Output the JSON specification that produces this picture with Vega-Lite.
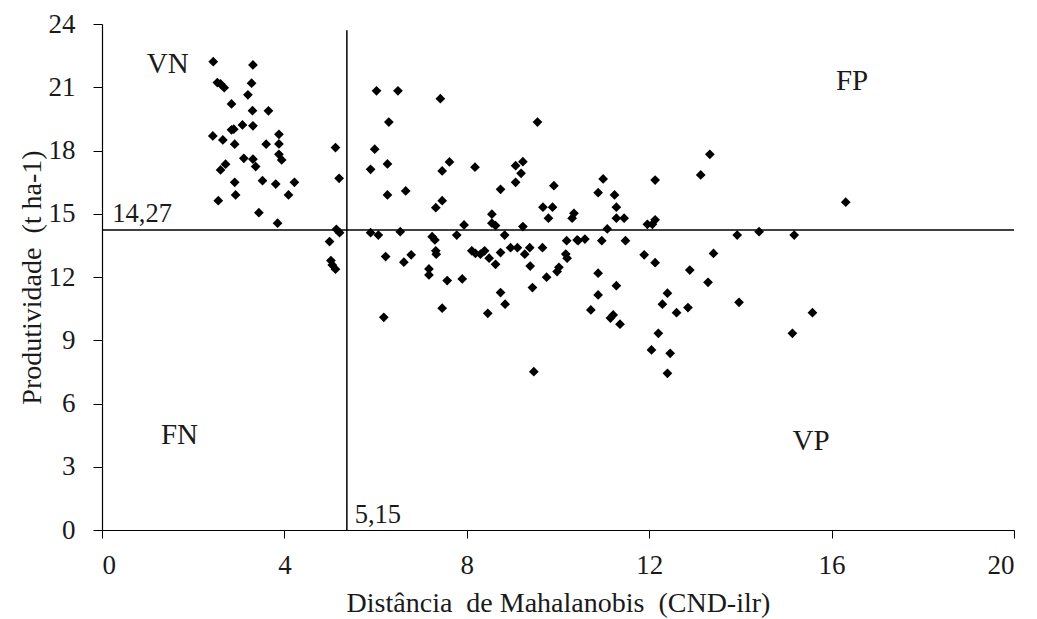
{
  "$schema": "https://vega.github.io/schema/vega-lite/v6.json",
  "width": 912,
  "height": 506,
  "autosize": "none",
  "padding": {"left": 102, "top": 24, "right": 23, "bottom": 89},
  "background": "white",
  "config": {
    "view": {"stroke": null},
    "font": "'Liberation Serif', 'Times New Roman', serif",
    "text": {"font": "'Liberation Serif', 'Times New Roman', serif"},
    "axis": {
      "grid": false,
      "domainColor": "#000000",
      "domainWidth": 1.2,
      "tickColor": "#000000",
      "tickSize": 8,
      "labelFont": "'Liberation Serif', 'Times New Roman', serif",
      "labelFontSize": 27,
      "labelColor": "#1a1a1a",
      "titleFont": "'Liberation Serif', 'Times New Roman', serif",
      "titleFontSize": 28,
      "titleFontWeight": "normal",
      "titleColor": "#1a1a1a"
    }
  },
  "layer": [
    {
      "data": {"values": [
        {"d": 2.44, "p": 22.21}, {"d": 3.31, "p": 22.06}, {"d": 2.53, "p": 21.22}, {"d": 2.60, "p": 21.16},
        {"d": 2.68, "p": 20.98}, {"d": 3.28, "p": 21.19}, {"d": 3.20, "p": 20.64}, {"d": 2.84, "p": 20.21},
        {"d": 3.30, "p": 19.89}, {"d": 3.65, "p": 19.88}, {"d": 3.31, "p": 19.17}, {"d": 3.08, "p": 19.21},
        {"d": 2.89, "p": 19.01}, {"d": 2.84, "p": 18.98}, {"d": 3.88, "p": 18.77}, {"d": 2.43, "p": 18.69},
        {"d": 2.65, "p": 18.50}, {"d": 2.91, "p": 18.30}, {"d": 3.60, "p": 18.30}, {"d": 3.88, "p": 18.31},
        {"d": 5.12, "p": 18.14}, {"d": 3.88, "p": 17.82}, {"d": 3.94, "p": 17.55}, {"d": 3.11, "p": 17.63},
        {"d": 3.31, "p": 17.59}, {"d": 3.37, "p": 17.24}, {"d": 2.71, "p": 17.35}, {"d": 2.60, "p": 17.08},
        {"d": 5.20, "p": 16.68}, {"d": 2.91, "p": 16.49}, {"d": 3.52, "p": 16.57}, {"d": 3.81, "p": 16.41},
        {"d": 4.22, "p": 16.49}, {"d": 2.93, "p": 15.89}, {"d": 4.09, "p": 15.89}, {"d": 2.55, "p": 15.62},
        {"d": 3.44, "p": 15.05}, {"d": 3.85, "p": 14.55}, {"d": 5.14, "p": 14.26}, {"d": 5.21, "p": 14.10},
        {"d": 4.99, "p": 13.68},
        {"d": 6.02, "p": 20.83}, {"d": 6.49, "p": 20.83}, {"d": 7.42, "p": 20.46}, {"d": 6.29, "p": 19.35},
        {"d": 9.55, "p": 19.35}, {"d": 5.98, "p": 18.06}, {"d": 5.89, "p": 17.11}, {"d": 6.26, "p": 17.36},
        {"d": 7.62, "p": 17.46}, {"d": 7.46, "p": 17.03}, {"d": 8.18, "p": 17.21}, {"d": 9.07, "p": 17.28},
        {"d": 9.23, "p": 17.47}, {"d": 9.19, "p": 16.92}, {"d": 9.07, "p": 16.49}, {"d": 9.91, "p": 16.33},
        {"d": 8.74, "p": 16.16}, {"d": 6.26, "p": 15.89}, {"d": 6.66, "p": 16.08}, {"d": 7.46, "p": 15.62},
        {"d": 7.32, "p": 15.29}, {"d": 9.67, "p": 15.31}, {"d": 9.88, "p": 15.31}, {"d": 9.79, "p": 14.79},
        {"d": 10.35, "p": 15.02}, {"d": 10.31, "p": 14.79}, {"d": 8.55, "p": 14.98}, {"d": 8.55, "p": 14.55},
        {"d": 8.63, "p": 14.44}, {"d": 7.94, "p": 14.47}, {"d": 9.23, "p": 14.39}, {"d": 5.89, "p": 14.10},
        {"d": 6.06, "p": 13.99}, {"d": 6.54, "p": 14.15}, {"d": 7.24, "p": 13.91}, {"d": 7.30, "p": 13.76},
        {"d": 7.78, "p": 13.99}, {"d": 8.83, "p": 13.99}, {"d": 7.32, "p": 13.24}, {"d": 7.33, "p": 13.08},
        {"d": 8.11, "p": 13.24}, {"d": 8.19, "p": 13.12}, {"d": 8.30, "p": 13.08}, {"d": 8.39, "p": 13.24},
        {"d": 8.49, "p": 12.89}, {"d": 8.63, "p": 12.60}, {"d": 8.74, "p": 13.16}, {"d": 8.96, "p": 13.39},
        {"d": 9.11, "p": 13.39}, {"d": 9.38, "p": 13.39}, {"d": 9.66, "p": 13.39}, {"d": 9.27, "p": 13.08},
        {"d": 9.39, "p": 12.52}, {"d": 10.19, "p": 13.72}, {"d": 10.42, "p": 13.76}, {"d": 10.17, "p": 13.09},
        {"d": 10.20, "p": 12.89}, {"d": 10.02, "p": 12.46}, {"d": 9.98, "p": 12.26}, {"d": 9.75, "p": 11.99},
        {"d": 6.22, "p": 12.97}, {"d": 6.78, "p": 13.05}, {"d": 6.62, "p": 12.70}, {"d": 7.17, "p": 12.38},
        {"d": 7.17, "p": 12.10}, {"d": 7.57, "p": 11.83}, {"d": 7.90, "p": 11.91}, {"d": 5.02, "p": 12.78},
        {"d": 5.05, "p": 12.57}, {"d": 5.12, "p": 12.37}, {"d": 8.74, "p": 11.26}, {"d": 9.44, "p": 11.50},
        {"d": 6.18, "p": 10.09}, {"d": 7.46, "p": 10.52}, {"d": 8.46, "p": 10.28}, {"d": 8.84, "p": 10.71},
        {"d": 9.47, "p": 7.51},
        {"d": 13.33, "p": 17.82}, {"d": 13.13, "p": 16.84}, {"d": 10.99, "p": 16.65}, {"d": 12.13, "p": 16.60},
        {"d": 10.88, "p": 16.00}, {"d": 11.24, "p": 15.89}, {"d": 11.28, "p": 15.31}, {"d": 11.28, "p": 14.79},
        {"d": 11.45, "p": 14.79}, {"d": 11.96, "p": 14.50}, {"d": 12.13, "p": 14.71}, {"d": 12.07, "p": 14.50},
        {"d": 11.08, "p": 14.28}, {"d": 13.93, "p": 13.99}, {"d": 14.41, "p": 14.15}, {"d": 15.18, "p": 13.99},
        {"d": 10.44, "p": 13.72}, {"d": 10.59, "p": 13.80}, {"d": 10.96, "p": 13.72}, {"d": 11.48, "p": 13.72},
        {"d": 11.89, "p": 13.05}, {"d": 12.13, "p": 12.68}, {"d": 13.41, "p": 13.12}, {"d": 12.89, "p": 12.33},
        {"d": 13.29, "p": 11.75}, {"d": 10.88, "p": 12.18}, {"d": 11.28, "p": 11.59}, {"d": 10.88, "p": 11.15},
        {"d": 10.72, "p": 10.44}, {"d": 11.21, "p": 10.20}, {"d": 13.97, "p": 10.80}, {"d": 12.40, "p": 11.23},
        {"d": 12.29, "p": 10.71}, {"d": 12.60, "p": 10.31}, {"d": 12.85, "p": 10.55}, {"d": 15.58, "p": 10.31},
        {"d": 11.36, "p": 9.76}, {"d": 11.15, "p": 10.05}, {"d": 12.20, "p": 9.33}, {"d": 12.05, "p": 8.54},
        {"d": 12.46, "p": 8.38}, {"d": 12.40, "p": 7.43}, {"d": 15.14, "p": 9.33}, {"d": 16.31, "p": 15.55}
      ]},
      "mark": {"type": "point", "shape": "diamond", "filled": true, "size": 95, "color": "#000000", "opacity": 1},
      "encoding": {
        "x": {"field": "d", "type": "quantitative",
              "scale": {"domain": [0, 20], "nice": false, "zero": true},
              "axis": {"values": [0, 4, 8, 12, 16, 20], "title": "Distância\u00a0 de Mahalanobis\u00a0 (CND-ilr)", "titlePadding": 11, "labelPadding": 14}},
        "y": {"field": "p", "type": "quantitative",
              "scale": {"domain": [0, 24], "nice": false, "zero": true},
              "axis": {"values": [0, 3, 6, 9, 12, 15, 18, 21, 24], "title": "Produtividade\u00a0 (t ha-1)", "titlePadding": 2, "labelPadding": 18, "tickSize": 9}}
      }
    },
    {
      "data": {"values": [
        {"x": 5.37, "x2": 5.37, "y": 0, "y2": 23.7},
        {"x": 0, "x2": 20, "y": 14.23, "y2": 14.23}
      ]},
      "mark": {"type": "rule", "color": "#000000", "strokeWidth": 1.5},
      "encoding": {
        "x": {"field": "x", "type": "quantitative"},
        "x2": {"field": "x2"},
        "y": {"field": "y", "type": "quantitative"},
        "y2": {"field": "y2"}
      }
    },
    {
      "data": {"values": [
        {"t": "VN", "x": 1.44, "y": 22.1},
        {"t": "FP", "x": 16.45, "y": 21.3},
        {"t": "FN", "x": 1.7, "y": 4.5},
        {"t": "VP", "x": 15.55, "y": 4.22}
      ]},
      "mark": {"type": "text", "font": "'Liberation Serif', 'Times New Roman', serif", "fontSize": 29, "color": "#1a1a1a", "align": "center", "baseline": "middle"},
      "encoding": {
        "x": {"field": "x", "type": "quantitative"},
        "y": {"field": "y", "type": "quantitative"},
        "text": {"field": "t"}
      }
    },
    {
      "data": {"values": [
        {"t": "14,27", "x": 0.88, "y": 14.99},
        {"t": "5,15", "x": 6.05, "y": 0.7}
      ]},
      "mark": {"type": "text", "font": "'Liberation Serif', 'Times New Roman', serif", "fontSize": 26.5, "color": "#1a1a1a", "align": "center", "baseline": "middle"},
      "encoding": {
        "x": {"field": "x", "type": "quantitative"},
        "y": {"field": "y", "type": "quantitative"},
        "text": {"field": "t"}
      }
    }
  ]
}
